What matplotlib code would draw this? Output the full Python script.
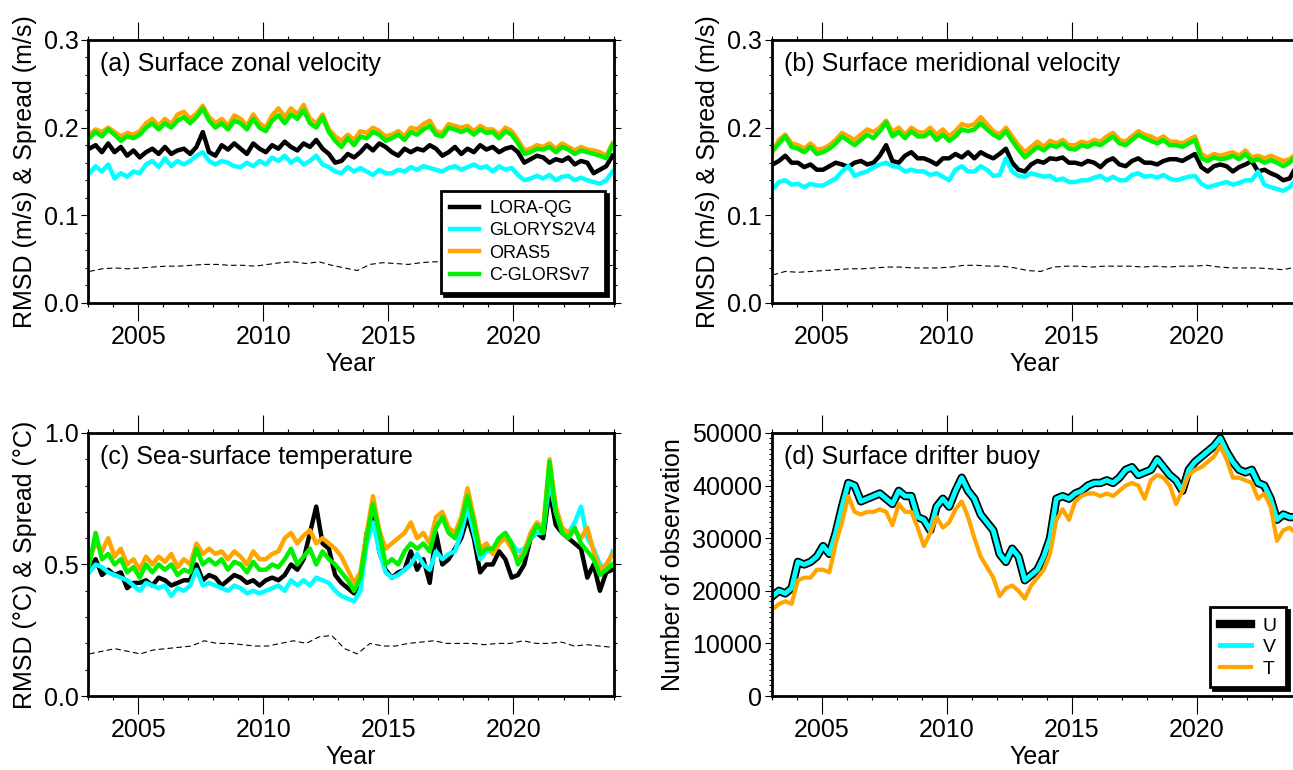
import numpy as np
import matplotlib
matplotlib.use("Agg")
import matplotlib.pyplot as plt
from matplotlib.ticker import MultipleLocator, FormatStrFormatter

plt.rcParams['font.family'] = ['Liberation Sans', 'DejaVu Sans']

# quarterly values, 2003-2023 (4 per year)
# (a) surface zonal velocity
lq_a = [.176, .180, .172, .182, .172, .178, .168, .174, .166, .172, .176, .170,
        .178, .170, .174, .176, .170, .178, .195, .172, .168, .180, .175, .182,
        .176, .170, .182, .176, .172, .180, .176, .184, .178, .174, .182, .178,
        .186, .176, .170, .160, .162, .170, .166, .172, .180, .174, .182, .178,
        .172, .168, .176, .172, .176, .174, .180, .176, .168, .172, .178, .170,
        .176, .172, .180, .175, .178, .172, .176, .178, .172, .160, .164, .168,
        .166, .160, .164, .162, .166, .158, .162, .160, .148, .152, .156, .168]
gl_a = [.148, .156, .150, .158, .142, .148, .144, .150, .148, .158, .162, .155,
        .165, .156, .162, .158, .162, .168, .172, .162, .158, .162, .160, .156,
        .155, .160, .156, .162, .158, .166, .162, .168, .160, .165, .158, .162,
        .168, .158, .155, .150, .148, .155, .150, .154, .150, .146, .152, .148,
        .148, .152, .150, .155, .152, .156, .154, .152, .150, .154, .156, .152,
        .155, .158, .154, .156, .150, .156, .152, .154, .146, .140, .142, .145,
        .142, .146, .140, .144, .145, .140, .143, .140, .138, .136, .140, .150]
or_a = [.192, .198, .195, .200, .195, .190, .194, .192, .196, .205, .210, .202,
        .210, .204, .215, .218, .210, .216, .225, .212, .205, .210, .202, .214,
        .210, .202, .215, .205, .200, .214, .222, .212, .222, .215, .226, .210,
        .205, .215, .198, .190, .185, .192, .186, .196, .194, .200, .196, .190,
        .192, .196, .190, .200, .198, .204, .208, .196, .194, .204, .202, .200,
        .202, .196, .202, .198, .198, .192, .200, .196, .186, .174, .176, .180,
        .178, .182, .176, .182, .178, .174, .178, .175, .174, .172, .168, .182]
cg_a = [.188, .195, .190, .198, .192, .185, .190, .188, .192, .200, .205, .198,
        .205, .200, .208, .212, .205, .212, .222, .208, .200, .205, .198, .208,
        .205, .198, .210, .200, .196, .208, .214, .205, .215, .210, .220, .205,
        .200, .212, .195, .185, .178, .188, .180, .190, .188, .195, .192, .185,
        .188, .192, .186, .195, .192, .198, .202, .192, .190, .200, .198, .195,
        .198, .192, .198, .194, .195, .188, .196, .192, .182, .170, .172, .176,
        .175, .178, .172, .178, .175, .170, .174, .172, .170, .168, .165, .180]

# (b) surface meridional velocity
lq_b = [.158, .162, .168, .160, .160, .155, .158, .152, .152, .156, .160, .158,
        .155, .160, .162, .158, .160, .168, .180, .162, .160, .168, .172, .165,
        .165, .162, .158, .165, .165, .170, .166, .172, .165, .172, .168, .165,
        .170, .176, .160, .152, .150, .158, .162, .160, .165, .164, .166, .160,
        .160, .158, .162, .160, .155, .162, .165, .158, .156, .162, .165, .160,
        .160, .158, .162, .164, .164, .162, .166, .170, .155, .150, .156, .158,
        .156, .150, .155, .158, .162, .150, .152, .148, .145, .140, .142, .155]
gl_b = [.130, .138, .140, .135, .136, .132, .136, .134, .134, .138, .142, .150,
        .156, .145, .148, .150, .155, .158, .160, .156, .155, .150, .152, .150,
        .150, .146, .148, .144, .140, .152, .156, .150, .150, .156, .152, .145,
        .146, .165, .150, .145, .144, .148, .146, .144, .145, .140, .142, .138,
        .138, .140, .140, .143, .145, .140, .144, .140, .140, .146, .148, .144,
        .145, .143, .146, .142, .140, .142, .144, .145, .136, .132, .134, .136,
        .138, .135, .137, .140, .140, .150, .135, .132, .130, .128, .132, .140]
or_b = [.172, .186, .192, .182, .180, .176, .182, .175, .176, .180, .186, .194,
        .190, .186, .192, .198, .195, .200, .208, .195, .200, .192, .200, .195,
        .194, .200, .192, .198, .190, .196, .204, .202, .204, .212, .204, .196,
        .192, .200, .190, .180, .172, .178, .184, .178, .185, .182, .186, .180,
        .180, .184, .182, .186, .184, .190, .194, .186, .184, .190, .196, .192,
        .190, .186, .190, .184, .184, .182, .186, .190, .170, .166, .170, .168,
        .170, .172, .168, .174, .166, .168, .165, .168, .165, .162, .164, .170]
cg_b = [.174, .182, .190, .178, .176, .172, .178, .170, .172, .176, .182, .190,
        .185, .180, .186, .192, .188, .196, .206, .190, .195, .188, .196, .190,
        .190, .195, .186, .192, .185, .190, .198, .196, .198, .205, .198, .192,
        .188, .196, .185, .175, .166, .172, .178, .174, .180, .178, .182, .176,
        .175, .180, .178, .182, .180, .185, .190, .182, .180, .186, .192, .188,
        .185, .182, .186, .180, .180, .178, .182, .186, .165, .162, .166, .164,
        .165, .168, .164, .170, .162, .164, .160, .163, .160, .156, .160, .168]

# (c) sea-surface temperature
lq_c = [.48, .52, .46, .48, .46, .47, .41, .43, .43, .44, .42, .45,
        .44, .42, .43, .44, .44, .50, .44, .46, .45, .42, .44, .46,
        .45, .43, .44, .42, .44, .45, .44, .46, .50, .48, .52, .62,
        .72, .58, .56, .46, .43, .41, .39, .44, .62, .70, .55, .48,
        .45, .47, .48, .55, .48, .52, .43, .62, .50, .52, .56, .60,
        .68, .60, .47, .50, .50, .55, .52, .45, .46, .50, .60, .62,
        .60, .78, .65, .62, .60, .58, .56, .45, .50, .40, .47, .48]
gl_c = [.47, .50, .49, .47, .46, .45, .44, .42, .40, .43, .42, .41,
        .42, .38, .41, .40, .42, .48, .42, .43, .42, .41, .40, .42,
        .41, .39, .40, .39, .40, .41, .42, .40, .44, .42, .44, .42,
        .45, .44, .43, .40, .38, .37, .36, .40, .58, .66, .55, .47,
        .45, .46, .48, .50, .54, .50, .48, .55, .52, .54, .55, .62,
        .72, .62, .52, .55, .55, .60, .62, .58, .55, .56, .60, .62,
        .62, .82, .70, .63, .62, .66, .72, .60, .56, .50, .48, .55]
or_c = [.52, .58, .55, .60, .53, .56, .50, .52, .48, .53, .50, .53,
        .51, .54, .49, .52, .50, .58, .54, .56, .54, .55, .52, .55,
        .53, .50, .55, .52, .52, .54, .55, .60, .62, .58, .61, .63,
        .58, .60, .58, .56, .53, .48, .43, .47, .62, .76, .63, .56,
        .58, .60, .62, .66, .60, .62, .58, .68, .70, .64, .62, .68,
        .79, .68, .56, .58, .54, .58, .60, .56, .52, .55, .62, .66,
        .64, .90, .72, .64, .62, .63, .60, .64, .55, .48, .50, .54]
cg_c = [.50, .62, .52, .54, .50, .52, .47, .49, .45, .50, .47, .50,
        .48, .50, .46, .48, .47, .56, .50, .52, .50, .52, .48, .51,
        .50, .47, .51, .48, .48, .50, .49, .52, .56, .50, .53, .56,
        .50, .55, .52, .50, .47, .44, .40, .45, .60, .73, .62, .50,
        .52, .50, .55, .58, .56, .58, .55, .64, .68, .62, .60, .66,
        .76, .66, .54, .56, .56, .60, .62, .58, .50, .54, .60, .65,
        .62, .89, .70, .62, .60, .64, .58, .55, .52, .46, .48, .50]

# ensemble spread (half-yearly)
sp_a = [.036, .039, .040, .039, .040, .041, .042, .042, .043, .044, .044, .043,
        .043, .042, .044, .046, .047, .045, .047, .043, .040, .037, .044, .046,
        .045, .044, .046, .047, .047, .046, .045, .044, .044, .044, .045, .043,
        .043, .043, .042, .042, .041, .043]
sp_b = [.032, .036, .035, .036, .037, .038, .039, .039, .040, .041, .041, .040,
        .040, .040, .041, .043, .043, .042, .042, .040, .037, .036, .041, .042,
        .042, .041, .042, .042, .042, .041, .042, .041, .042, .042, .043, .041,
        .040, .040, .040, .039, .038, .041]
sp_c = [.16, .17, .18, .17, .16, .175, .18, .185, .19, .21, .20, .20,
        .195, .19, .19, .20, .21, .20, .225, .23, .18, .16, .20, .19,
        .19, .20, .205, .21, .20, .20, .20, .195, .20, .20, .21, .20,
        .20, .205, .19, .195, .19, .185]

# (d) number of drifter observations
obs_u = [19000, 20000, 19500, 20500, 25500, 25000, 25500, 26500, 28500, 27000, 31000, 36000,
         40500, 40000, 37000, 37500, 38000, 38500, 37500, 36500, 39000, 38000, 38000, 34000,
         33500, 31500, 36000, 37500, 36000, 39000, 41500, 39000, 37500, 34500, 33000, 31500,
         27000, 25500, 28000, 26500, 22000, 23000, 24000, 26500, 30000, 37500, 38000, 37500,
         38500, 39000, 40000, 40500, 40500, 41000, 40500, 41500, 43000, 43500, 42000, 42500,
         43000, 45000, 43500, 42000, 41000, 39000, 43000, 44500, 45500, 46500, 47500, 49000,
         46500, 44500, 43000, 42500, 43000, 40500, 40000, 37500, 33500, 34500, 34000, 34000]
obs_v = list(obs_u)
obs_t = [16500, 17500, 18000, 17500, 22000, 22500, 22500, 24000, 24000, 23500, 29000, 33000,
         38000, 35000, 34500, 35000, 35000, 35500, 35000, 32500, 36500, 35000, 35000, 32000,
         28500, 31000, 34000, 32000, 33000, 35500, 37000, 34000, 30000, 26500, 24500, 22500,
         19000, 20500, 21000, 20000, 18500, 21000, 22500, 24000, 27000, 33500, 35500, 33500,
         37000, 38000, 38500, 38500, 38000, 38500, 38000, 39000, 40000, 40500, 40000, 37500,
         41000, 42000, 41500, 40000, 36500, 39000, 42000, 43000, 43500, 44500, 45500, 47500,
         45000, 41500, 41500, 41000, 40500, 37500, 38500, 36000, 29500, 31500, 32000, 31000]

t_q = np.linspace(2003.04, 2023.96, len(lq_a))
t_h = np.linspace(2003.04, 2023.96, len(sp_a))

names = ['LORA-QG', 'GLORYS2V4', 'ORAS5', 'C-GLORSv7']
colors = ['black', '#00ffff', '#ffa500', '#00f000']

fig = plt.figure(figsize=(12.93, 7.70), dpi=100)
w, h = 0.4062, 0.3416
ax_a = fig.add_axes([0.0683, 0.6065, w, h])
ax_b = fig.add_axes([0.5968, 0.6065, w, h])
ax_c = fig.add_axes([0.0683, 0.0961, w, h])
ax_d = fig.add_axes([0.5968, 0.0961, w, h])


def style(ax, ymax, ymaj, ymin, fmt, ylabel, title):
    ax.set_xlim(2003, 2024)
    ax.set_ylim(0, ymax)
    ax.xaxis.set_major_locator(MultipleLocator(5))
    ax.xaxis.set_minor_locator(MultipleLocator(1))
    ax.yaxis.set_major_locator(MultipleLocator(ymaj))
    ax.yaxis.set_minor_locator(MultipleLocator(ymin))
    ax.yaxis.set_major_formatter(FormatStrFormatter(fmt))
    ax.tick_params(axis='x', which='major', direction='out', length=13, width=0.8,
                   top=True, labelsize=18, pad=3)
    ax.tick_params(axis='x', which='minor', direction='out', length=3, width=0.8, top=True)
    ax.tick_params(axis='y', which='major', direction='out', length=5, width=0.8,
                   right=True, labelsize=18, pad=2)
    ax.tick_params(axis='y', which='minor', direction='out', length=2.5, width=0.8, right=True)
    for s in ax.spines.values():
        s.set_linewidth(2)
    ax.set_xlabel('Year', fontsize=18, labelpad=2)
    ax.set_ylabel(ylabel, fontsize=18, labelpad=5)
    ax.text(0.023, 0.91, title, transform=ax.transAxes, fontsize=18, va='center', ha='left')


def legend_box(ax, anchor, size, spacing):
    leg = ax.legend(loc='lower right', bbox_to_anchor=anchor, frameon=True, fancybox=False,
                    edgecolor='k', framealpha=1, fontsize=size, handlelength=1.6,
                    handletextpad=0.6, labelspacing=spacing, borderpad=0.5, borderaxespad=0,
                    shadow={'color': 'k', 'alpha': 1})
    leg.get_frame().set_linewidth(2)
    return leg


panels = [(ax_a, [lq_a, gl_a, or_a, cg_a], sp_a),
          (ax_b, [lq_b, gl_b, or_b, cg_b], sp_b),
          (ax_c, [lq_c, gl_c, or_c, cg_c], sp_c)]
for ax, series, spread in panels:
    ax.plot(t_h, spread, color='k', lw=0.8, ls=(0, (5, 3)))
    for vals, name, col in zip(series, names, colors):
        ax.plot(t_q, vals, color=col, lw=3.2, label=name)

style(ax_a, 0.3, 0.1, 0.02, '%.1f', 'RMSD (m/s) & Spread (m/s)', '(a) Surface zonal velocity')
style(ax_b, 0.3, 0.1, 0.02, '%.1f', 'RMSD (m/s) & Spread (m/s)', '(b) Surface meridional velocity')
style(ax_c, 1.0, 0.5, 0.1, '%.1f', 'RMSD (°C) & Spread (°C)', '(c) Sea-surface temperature')
style(ax_d, 50000, 10000, 1000, '%d', 'Number of observation', '(d) Surface drifter buoy')
legend_box(ax_a, (0.984, 0.037), 13, 0.3)

ax_d.plot(t_q, obs_u, color='black', lw=6, label='U')
ax_d.plot(t_q, obs_v, color='#00ffff', lw=3.5, label='V')
ax_d.plot(t_q, obs_t, color='#ffa500', lw=3, label='T')
legend_box(ax_d, (0.980, 0.033), 14, 0.2)

fig.savefig('out.png', dpi=100)
